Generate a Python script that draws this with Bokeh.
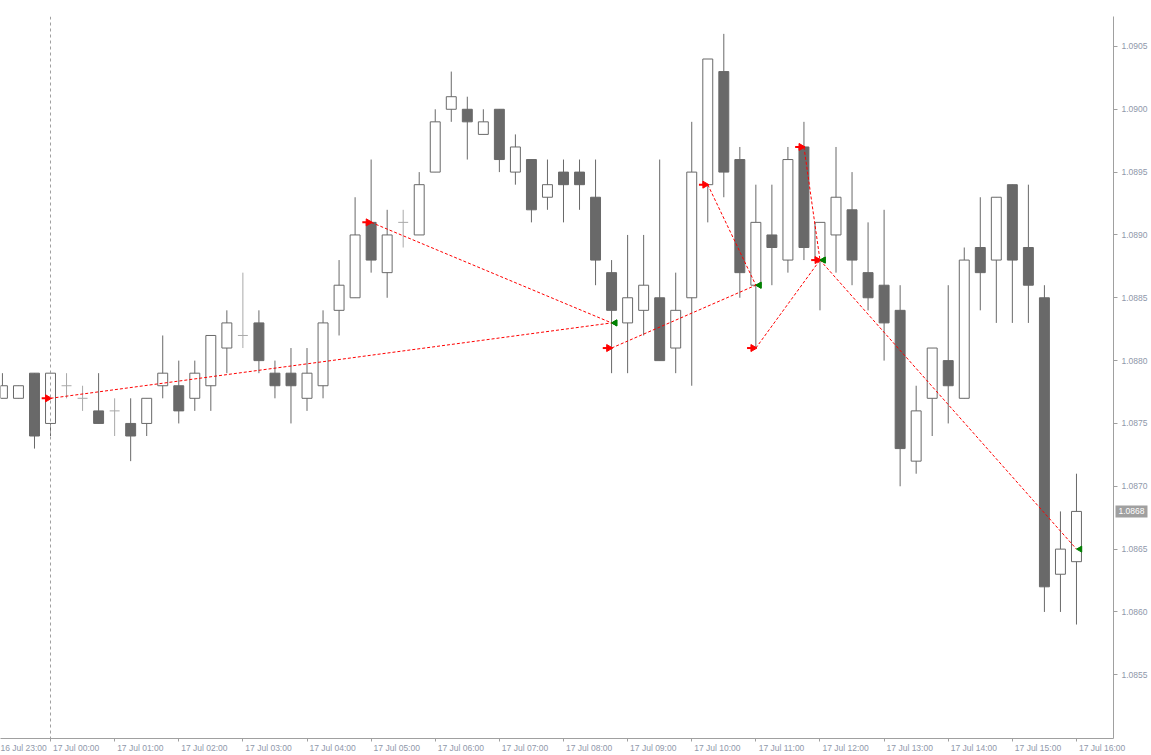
import numpy as np
from bokeh.plotting import figure
from bokeh.models import (ColumnDataSource, Range1d, LinearAxis, FixedTicker,
                          Span, Label, NumeralTickFormatter)
from bokeh.embed import file_html
from bokeh.resources import INLINE

# ---------------- data (15-minute bars, index 0 = 17 Jul 00:00) ----------------
bar_index = list(range(-3, 65))
open_ = [1.0877, 1.0877, 1.0879, 1.0875, 1.0878, 1.0877, 1.0876, 1.0876, 1.0875, 1.0875,
         1.0878, 1.0878, 1.0877, 1.0878, 1.0881, 1.0882, 1.0883, 1.0879, 1.0879, 1.0877,
         1.0878, 1.0884, 1.0885, 1.0891, 1.0887, 1.0891, 1.0890, 1.0895, 1.0900, 1.0900,
         1.0898, 1.0900, 1.0895, 1.0896, 1.0893, 1.0895, 1.0895, 1.0893, 1.0887, 1.0883,
         1.0884, 1.0885, 1.0881, 1.0885, 1.0894, 1.0903, 1.0896, 1.0886, 1.0890, 1.0888,
         1.0897, 1.0888, 1.0890, 1.0892, 1.0887, 1.0886, 1.0884, 1.0872, 1.0877, 1.0880,
         1.0877, 1.0889, 1.0888, 1.0894, 1.0889, 1.0885, 1.0863, 1.0864]
high = [1.0879, 1.0878, 1.0879, 1.0879, 1.0879, 1.0878, 1.0879, 1.0877, 1.0877, 1.0877,
        1.0882, 1.0880, 1.0880, 1.0882, 1.0884, 1.0887, 1.0884, 1.0880, 1.0881, 1.0881,
        1.0884, 1.0888, 1.0893, 1.0896, 1.0892, 1.0892, 1.0895, 1.0900, 1.0903, 1.0901,
        1.0900, 1.0900, 1.0898, 1.0896, 1.0896, 1.0896, 1.0896, 1.0896, 1.0888, 1.0890,
        1.0890, 1.0896, 1.0887, 1.0899, 1.0904, 1.0906, 1.0897, 1.0894, 1.0894, 1.0897,
        1.0899, 1.0891, 1.0897, 1.0895, 1.0891, 1.0892, 1.0886, 1.0878, 1.0881, 1.0886,
        1.0889, 1.0893, 1.0893, 1.0894, 1.0894, 1.0886, 1.0868, 1.0871]
low = [1.0877, 1.0877, 1.0873, 1.0874, 1.0877, 1.0876, 1.0875, 1.0874, 1.0872, 1.0874,
       1.0877, 1.0875, 1.0876, 1.0876, 1.0879, 1.0881, 1.0879, 1.0877, 1.0875, 1.0876,
       1.0877, 1.0882, 1.0885, 1.0887, 1.0885, 1.0889, 1.0890, 1.0895, 1.0899, 1.0896,
       1.0898, 1.0895, 1.0894, 1.0891, 1.0892, 1.0891, 1.0892, 1.0886, 1.0879, 1.0879,
       1.0882, 1.0880, 1.0879, 1.0878, 1.0891, 1.0893, 1.0885, 1.0881, 1.0886, 1.0887,
       1.0888, 1.0884, 1.0887, 1.0886, 1.0884, 1.0880, 1.0870, 1.0871, 1.0874, 1.0875,
       1.0877, 1.0884, 1.0883, 1.0883, 1.0883, 1.0860, 1.0860, 1.0859]
close = [1.0878, 1.0878, 1.0874, 1.0879, 1.0878, 1.0877, 1.0875, 1.0876, 1.0874, 1.0877,
         1.0879, 1.0876, 1.0879, 1.0882, 1.0883, 1.0882, 1.0880, 1.0878, 1.0878, 1.0879,
         1.0883, 1.0886, 1.0890, 1.0888, 1.0890, 1.0891, 1.0894, 1.0899, 1.0901, 1.0899,
         1.0899, 1.0896, 1.0897, 1.0892, 1.0894, 1.0894, 1.0894, 1.0888, 1.0884, 1.0885,
         1.0886, 1.0880, 1.0884, 1.0895, 1.0904, 1.0895, 1.0887, 1.0891, 1.0889, 1.0896,
         1.0889, 1.0891, 1.0893, 1.0888, 1.0885, 1.0883, 1.0873, 1.0876, 1.0881, 1.0878,
         1.0888, 1.0887, 1.0893, 1.0888, 1.0886, 1.0862, 1.0865, 1.0868]

# trades: entry (red arrow) -> exit (green arrow)
entry_idx = [0, 20, 35, 41, 44, 47, 48]
entry_price = [1.0877, 1.0891, 1.0881, 1.0894, 1.0881, 1.0897, 1.0888]
exit_idx = [35, 35, 44, 44, 48, 48, 64]
exit_price = [1.0883, 1.0883, 1.0886, 1.0886, 1.0888, 1.0888, 1.0865]

day_separators = [0]
last_price = 1.0868

hour_ticks = [-4, 0, 4, 8, 12, 16, 20, 24, 28, 32, 36, 40, 44, 48, 52, 56, 60, 64]
hour_labels = ["16 Jul 23:00", "17 Jul 00:00", "17 Jul 01:00", "17 Jul 02:00",
               "17 Jul 03:00", "17 Jul 04:00", "17 Jul 05:00", "17 Jul 06:00",
               "17 Jul 07:00", "17 Jul 08:00", "17 Jul 09:00", "17 Jul 10:00",
               "17 Jul 11:00", "17 Jul 12:00", "17 Jul 13:00", "17 Jul 14:00",
               "17 Jul 15:00", "17 Jul 16:00"]
price_ticks = [1.0855, 1.0860, 1.0865, 1.0870, 1.0875, 1.0880, 1.0885,
               1.0890, 1.0895, 1.0900, 1.0905]

# ---------------- styling ----------------
FONT = "Liberation Sans"
CANDLE = "#696969"
DOJI = "#a9a9a9"
AXIS = "#a0a0a0"
LABEL = "#8f98aa"
RED = "#ff0000"
GREEN = "#008000"
BODY_W = 0.62
TOP = 16

x = np.array(bar_index, dtype=float)
o = np.array(open_); h = np.array(high); l = np.array(low); c = np.array(close)
up = c > o
dn = c < o
dj = ~(up | dn)

PX_PER_UNIT = 126200.0
y_top = 1.090865 - TOP / PX_PER_UNIT

p = figure(width=1151, height=755,
           x_range=Range1d(-3.12, 66.31), y_range=Range1d(1.084993, y_top),
           y_axis_location="right", output_backend="svg", toolbar_location=None,
           min_border_left=0, min_border_top=TOP, min_border_right=38, min_border_bottom=14,
           background_fill_color="white", border_fill_color="white")
p.outline_line_color = None
p.grid.visible = False

for loc in day_separators:
    p.add_layout(Span(location=loc, dimension="height", line_color=AXIS,
                      line_dash="3 3", line_width=1))

# wicks
wick_src = ColumnDataSource(dict(x=x, low=l, high=h,
                                 col=np.where(dj, DOJI, CANDLE)))
p.segment(x0="x", y0="low", x1="x", y1="high", line_color="col",
          line_width=1, source=wick_src)

# bodies
p.vbar(x=x[up], width=BODY_W, bottom=o[up], top=c[up], fill_color="white",
       line_color=CANDLE, line_width=1)
p.vbar(x=x[dn], width=BODY_W, bottom=c[dn], top=o[dn], fill_color=CANDLE,
       line_color=CANDLE, line_width=1)
p.segment(x0=x[dj] - BODY_W / 2, y0=o[dj], x1=x[dj] + BODY_W / 2, y1=o[dj],
          line_color=DOJI, line_width=1)

# trades
ei = np.array(entry_idx, dtype=float); xi = np.array(exit_idx, dtype=float)
p.segment(x0=ei, y0=entry_price, x1=xi, y1=exit_price, line_color=RED,
          line_dash="3 2", line_width=1)
p.segment(x0=ei - 0.55, y0=entry_price, x1=ei - 0.25, y1=entry_price,
          line_color=RED, line_width=2)
p.scatter(x=ei - 0.18, y=entry_price, marker="triangle", angle=-np.pi / 2,
          size=7, fill_color=RED, line_color=RED)
p.scatter(x=xi + 0.22, y=exit_price, marker="triangle", angle=np.pi / 2,
          size=6, fill_color=GREEN, line_color=GREEN)

# right price axis
ya = p.yaxis[0]
ya.ticker = FixedTicker(ticks=price_ticks)
ya.formatter = NumeralTickFormatter(format="0.0000")
ya.axis_line_color = AXIS
ya.major_tick_line_color = AXIS
ya.major_tick_out = 4
ya.major_tick_in = 0
ya.minor_tick_line_color = None
ya.major_label_standoff = 4
ya.major_label_text_font = FONT
ya.major_label_text_font_size = "8.5px"
ya.major_label_text_color = LABEL

# bottom axis: tick marks at each hour
xa = p.xaxis[0]
xa.ticker = FixedTicker(ticks=hour_ticks)
xa.major_label_overrides = {t: "" for t in hour_ticks}
xa.major_label_text_font_size = "0px"
xa.major_label_standoff = 0
xa.axis_line_color = AXIS
xa.major_tick_line_color = AXIS
xa.major_tick_out = 3
xa.major_tick_in = 0
xa.minor_tick_line_color = None

# bottom axis labels, left-aligned to the hour tick (placed by a second axis)
label_pos = [t + 1.6 for t in hour_ticks]
xl = LinearAxis(ticker=FixedTicker(ticks=label_pos),
                major_label_overrides=dict(zip(label_pos, hour_labels)),
                axis_line_color=None, major_tick_line_color=None,
                minor_tick_line_color=None, major_tick_out=0, major_tick_in=0,
                major_label_standoff=1, major_label_text_font=FONT,
                major_label_text_font_size="8.5px", major_label_text_color=LABEL)
p.add_layout(xl, "below")

# current price marker on the price scale (side-panel label is not clipped)
p.add_layout(Label(x=1115, y=last_price, x_units="screen", y_units="data",
                   text=f"{last_price:.4f}", text_font=FONT, text_font_size="8.5px",
                   text_color="white", text_baseline="middle", text_align="left",
                   background_fill_color=AXIS, padding=3), "above")

open("out.html", "w").write(file_html(p, INLINE))
